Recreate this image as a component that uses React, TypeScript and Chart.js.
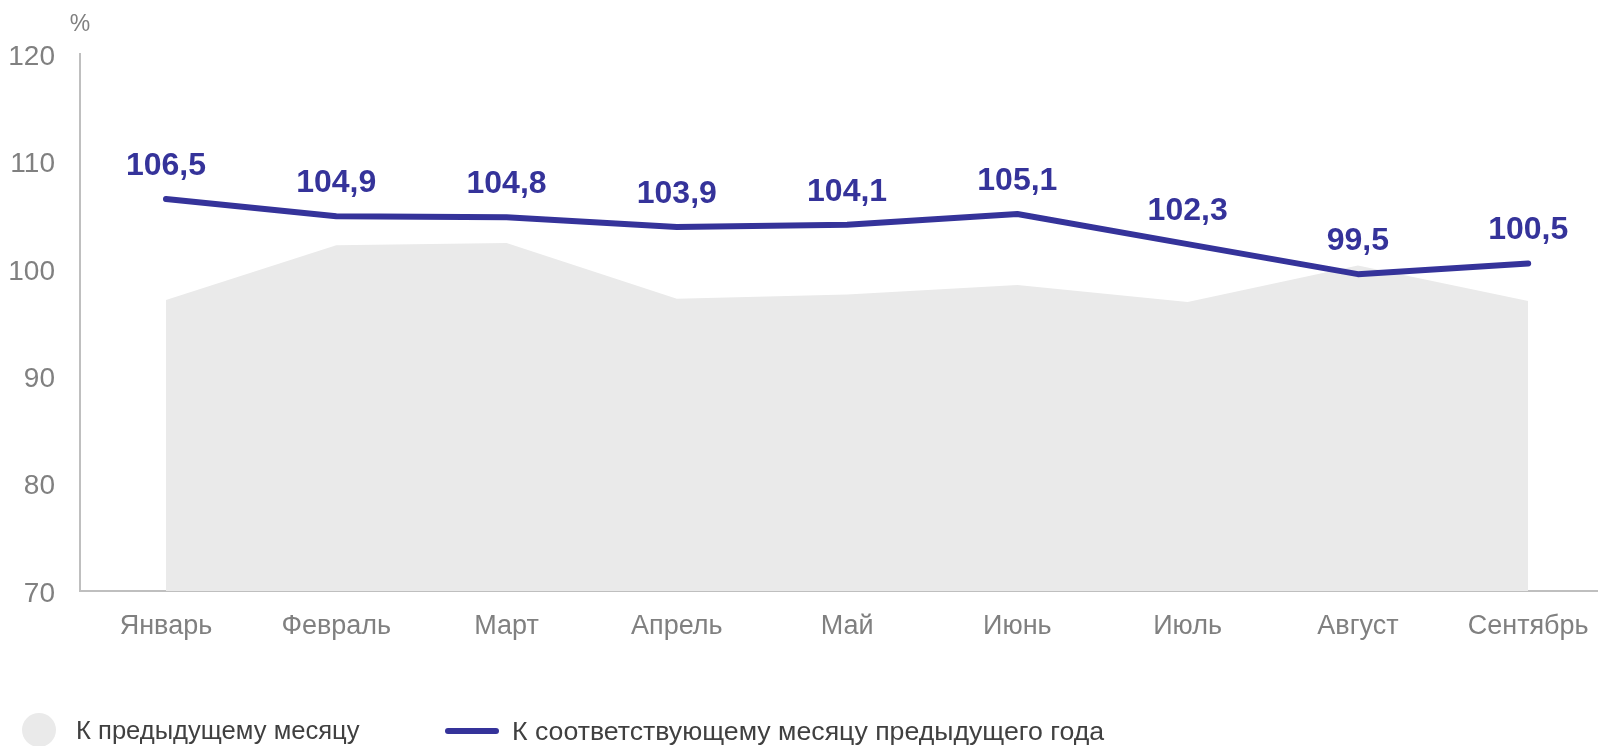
import React, { useEffect, useRef } from 'react';
import { Chart, registerables } from 'chart.js';

Chart.register(...registerables);

const months = ['Январь', 'Февраль', 'Март', 'Апрель', 'Май', 'Июнь', 'Июль', 'Август', 'Сентябрь'];
const prevMonth = [97.1, 102.2, 102.4, 97.2, 97.6, 98.5, 96.9, 100.3, 97.0];
const prevYear = [106.5, 104.9, 104.8, 103.9, 104.1, 105.1, 102.3, 99.5, 100.5];
const yMin = 70;
const yMax = 120;
const yStep = 10;
const unitLabel = '%';
const legendLabels = ['К предыдущему месяцу', 'К соответствующему месяцу предыдущего года'];

const FONT = '"Liberation Sans", Arial, sans-serif';
const LINE = '#35339A';
const AREA = '#EAEAEA';
const GRAY = '#808080';
const AXIS = '#BFBFBF';

const valueLabels = {
  id: 'valueLabels',
  afterDatasetsDraw(chart: any) {
    const ctx = chart.ctx;
    const meta = chart.getDatasetMeta(0);
    ctx.save();
    ctx.font = `bold 32px ${FONT}`;
    ctx.fillStyle = LINE;
    ctx.textAlign = 'center';
    ctx.textBaseline = 'middle';
    meta.data.forEach((pt: any, i: number) => {
      ctx.fillText(prevYear[i].toFixed(1).replace('.', ','), pt.x, pt.y - 33);
    });
    ctx.font = `23px ${FONT}`;
    ctx.fillStyle = GRAY;
    ctx.fillText(unitLabel, chart.chartArea.left, 25);
    ctx.restore();
  },
};

export default function App() {
  const ref = useRef<HTMLCanvasElement | null>(null);

  useEffect(() => {
    if (!ref.current) return;
    const chart = new Chart(ref.current, {
      type: 'line',
      data: {
        datasets: [
          {
            label: legendLabels[1],
            data: prevYear.map((v, i) => ({ x: i, y: v })),
            borderColor: LINE,
            backgroundColor: LINE,
            borderWidth: 6,
            pointRadius: 0,
            tension: 0,
            fill: false,
            borderCapStyle: 'round',
            borderJoinStyle: 'round',
          },
          {
            label: legendLabels[0],
            data: prevMonth.map((v, i) => ({ x: i, y: v })),
            borderColor: AREA,
            backgroundColor: AREA,
            borderWidth: 0,
            pointRadius: 0,
            tension: 0,
            fill: 'start',
          },
        ],
      },
      options: {
        animation: false,
        responsive: true,
        maintainAspectRatio: false,
        layout: { padding: { top: 54, left: 0, right: 0, bottom: 0 } },
        plugins: {
          legend: { display: false },
          tooltip: { enabled: false },
        },
        scales: {
          x: {
            type: 'linear',
            min: -0.505,
            max: 8.41,
            afterBuildTicks: (s: any) => {
              s.ticks = months.map((_, i) => ({ value: i }));
            },
            afterFit: (s: any) => {
              s.height = 155;
              s.paddingLeft = 0;
              s.paddingRight = 0;
            },
            ticks: {
              callback: (v: any) => months[v] ?? '',
              font: { family: FONT, size: 27 },
              color: GRAY,
              padding: 19,
              autoSkip: false,
              maxRotation: 0,
            },
            grid: { display: false, drawTicks: false },
            border: { display: true, color: AXIS, width: 2 },
          },
          y: {
            min: yMin,
            max: yMax,
            afterFit: (s: any) => {
              s.width = 80;
            },
            ticks: {
              stepSize: yStep,
              font: { family: FONT, size: 28 },
              color: GRAY,
              padding: 25,
              labelOffset: 3,
            },
            grid: { display: false, drawTicks: false },
            border: { display: true, color: AXIS, width: 2 },
          },
        },
      },
      plugins: [valueLabels],
    } as any);
    return () => chart.destroy();
  }, []);

  const textStyle: React.CSSProperties = {
    position: 'absolute',
    top: 716,
    lineHeight: '32px',
    color: '#404040',
    whiteSpace: 'nowrap',
  };

  return (
    <div style={{ position: 'absolute', left: 0, top: 0, width: 1598, height: 746, overflow: 'hidden', background: '#fff' }}>
      <canvas ref={ref} />
      <div style={{ position: 'absolute', left: 22, top: 713, width: 34, height: 34, borderRadius: '50%', background: AREA }} />
      <div style={{ ...textStyle, left: 76, font: `25.6px ${FONT}` }}>{legendLabels[0]}</div>
      <div style={{ position: 'absolute', left: 445, top: 728, width: 54, height: 6, borderRadius: 3, background: LINE }} />
      <div style={{ ...textStyle, left: 512, font: `26.7px ${FONT}` }}>{legendLabels[1]}</div>
    </div>
  );
}
